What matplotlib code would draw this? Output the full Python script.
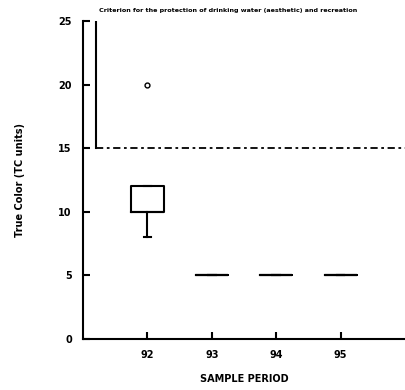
import matplotlib
matplotlib.use("Agg")
import matplotlib.pyplot as plt

periods = [92, 93, 94, 95]
q1 = [10, 5, 5, 5]
med = [10, 5, 5, 5]
q3 = [12, 5, 5, 5]
whislo = [8, 5, 5, 5]
whishi = [12, 5, 5, 5]
fliers = [[20], [], [], []]
criterion = 15
criterion_x = 91.2
title = "Criterion for the protection of drinking water (aesthetic) and recreation"

fig = plt.figure(figsize=(4.05, 3.9), dpi=100)
ax = fig.add_axes([0.205, 0.131, 0.795, 0.815])

stats = []
for i in range(len(periods)):
    stats.append(dict(med=med[i], q1=q1[i], q3=q3[i], whislo=whislo[i],
                      whishi=whishi[i], fliers=fliers[i], label=str(periods[i])))

ax.bxp(stats, positions=periods, widths=0.5, showfliers=True,
       boxprops=dict(color='black', linewidth=1.5),
       medianprops=dict(color='black', linewidth=1.5),
       whiskerprops=dict(color='black', linewidth=1.5),
       capprops=dict(color='black', linewidth=1.5),
       capwidths=0.12,
       flierprops=dict(marker='o', markersize=3.5, markerfacecolor='white',
                       markeredgecolor='black', markeredgewidth=1))

ax.plot([criterion_x, criterion_x], [25, criterion], color='black', linewidth=1.5)
ax.plot([criterion_x, 96], [criterion, criterion], color='black', linewidth=1.3,
        linestyle=(0, (4, 2, 1.5, 2)))

ax.set_xlim(91, 96)
ax.set_ylim(0, 25)
ax.set_xticks(periods)
ax.set_xticklabels([str(p) for p in periods])
ax.set_yticks([0, 5, 10, 15, 20, 25])
ax.spines['top'].set_visible(False)
ax.spines['right'].set_visible(False)
ax.spines['left'].set_linewidth(1.5)
ax.spines['bottom'].set_linewidth(1.5)
ax.tick_params(direction='in', length=5, width=1.5, labelsize=7)
ax.tick_params(axis='x', pad=8)
ax.tick_params(axis='y', pad=8)
for lab in ax.get_xticklabels() + ax.get_yticklabels():
    lab.set_fontweight('bold')

ax.set_xlabel("SAMPLE PERIOD", fontsize=7, fontweight='bold', labelpad=10)
ax.set_ylabel("True Color (TC units)", fontsize=7, fontweight='bold', labelpad=24)
fig.text(0.564, 0.972, title, fontsize=4.6, fontweight='bold', ha='center', va='center')

fig.savefig("out.png", dpi=100)
